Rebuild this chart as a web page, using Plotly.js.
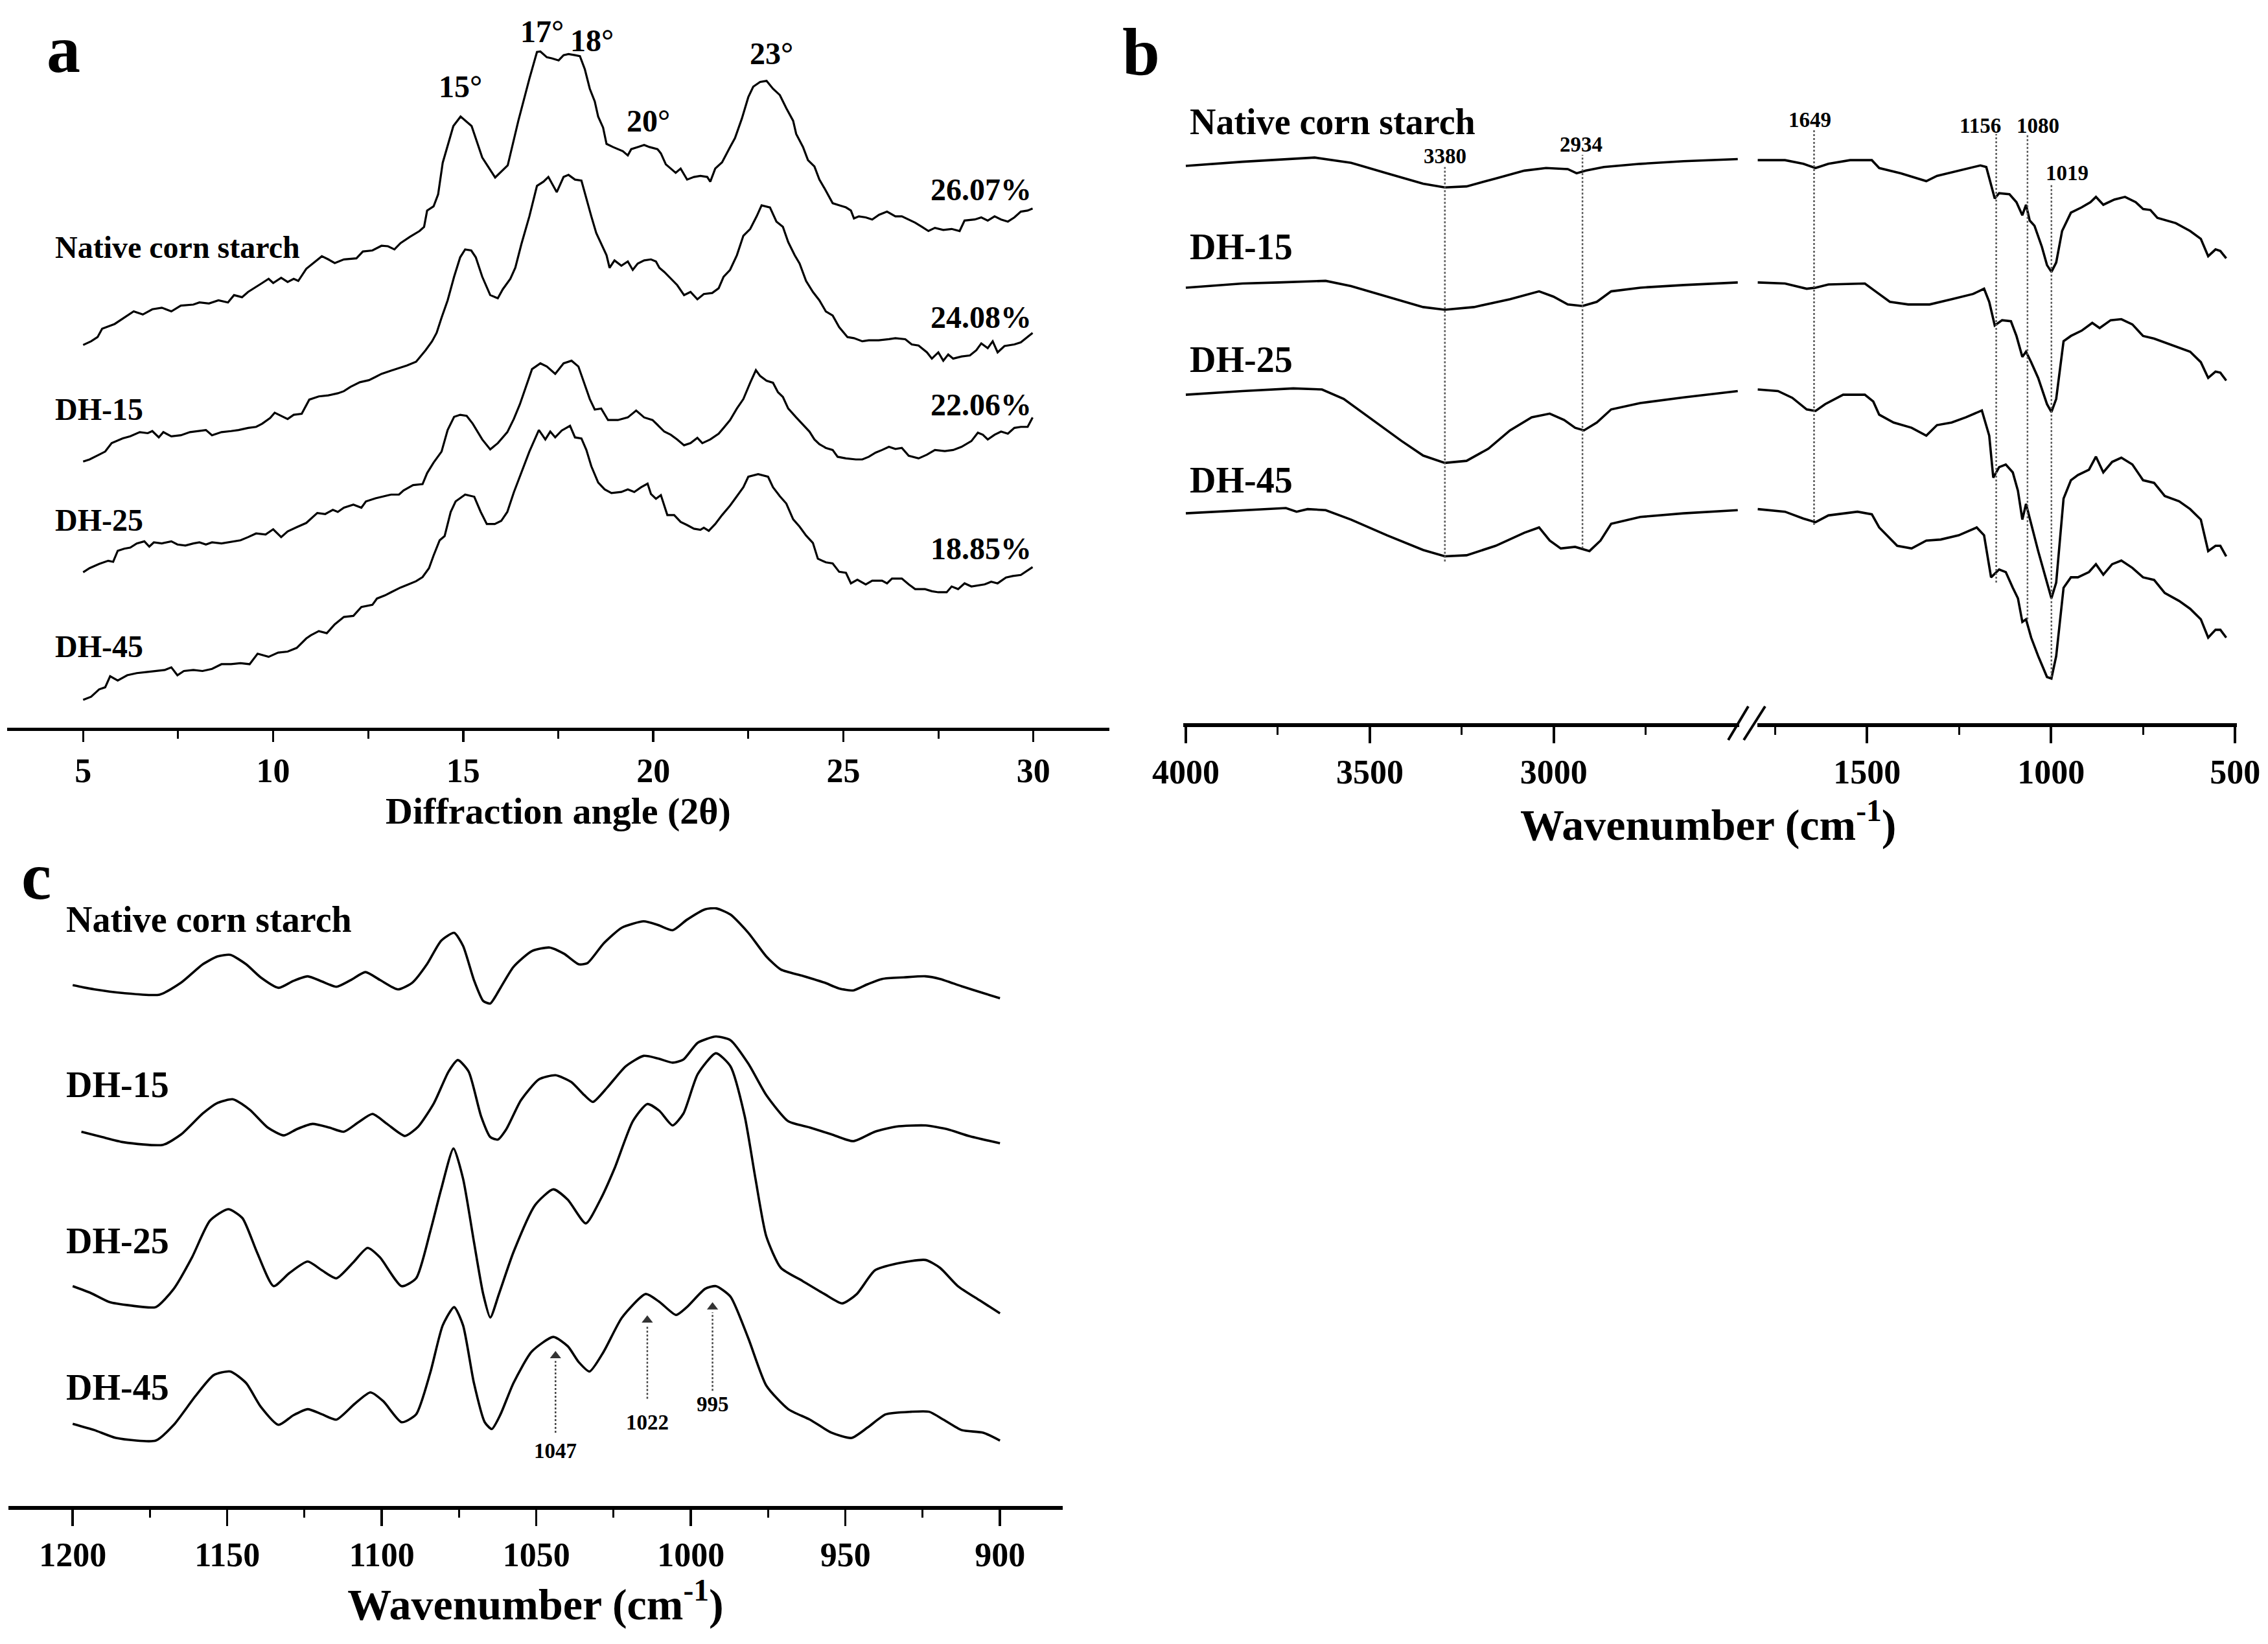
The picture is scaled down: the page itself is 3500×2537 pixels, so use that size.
<!DOCTYPE html>
<html>
<head>
<meta charset="utf-8">
<script src="https://cdn.plot.ly/plotly-3.0.1.min.js"></script>
<style>html,body{margin:0;padding:0;background:#fff;}#chart{width:3500px;height:2537px;}</style>
</head>
<body>
<div id="chart"></div>
<script>
// ---------------- DATA ----------------
const seriesNames = ['Native corn starch', 'DH-15', 'DH-25', 'DH-45'];
const crystallinity = ['26.07%', '24.08%', '22.06%', '18.85%'];
const xrdPeakLabels = ['15°', '17°', '18°', '20°', '23°'];
const xrdTicks = [5, 10, 15, 20, 25, 30];
const ftirPeakLabels = ['3380', '2934', '1649', '1156', '1080', '1019'];
const ftirTicksLeft = [4000, 3500, 3000];
const ftirTicksRight = [1500, 1000, 500];
const deconvTicks = [1200, 1150, 1100, 1050, 1000, 950, 900];
const deconvPeakLabels = ['1047', '1022', '995'];

// XRD (panel a): [2θ, stacked intensity a.u.]
const xrdNative = [[5.00,729],[5.21,736],[5.38,744],[5.50,760],[5.83,769],[6.04,779],[6.33,793],[6.57,787],[6.82,797],[7.07,800],[7.32,793],[7.57,804],[7.90,806],[8.06,810],[8.31,808],[8.56,814],[8.81,810],[8.97,824],[9.18,820],[9.34,830],[9.55,839],[9.71,847],[9.88,855],[10.00,847],[10.21,857],[10.38,849],[10.54,855],[10.66,851],[10.87,874],[11.12,888],[11.28,898],[11.45,892],[11.62,885],[11.86,892],[12.19,894],[12.36,907],[12.61,909],[12.85,918],[13.02,917],[13.19,911],[13.35,923],[13.60,935],[13.85,946],[13.97,954],[14.05,985],[14.22,993],[14.34,1016],[14.46,1076],[14.74,1146],[14.93,1164],[15.22,1146],[15.50,1086],[15.84,1048],[16.17,1071],[16.45,1156],[16.74,1236],[16.94,1287],[17.03,1288],[17.20,1277],[17.33,1275],[17.51,1271],[17.64,1281],[17.77,1283],[17.94,1281],[18.07,1279],[18.20,1254],[18.33,1217],[18.46,1193],[18.55,1164],[18.68,1143],[18.77,1112],[18.94,1106],[19.07,1102],[19.20,1098],[19.33,1090],[19.42,1102],[19.59,1106],[19.76,1110],[19.90,1106],[20.11,1102],[20.20,1094],[20.33,1073],[20.46,1065],[20.59,1057],[20.72,1065],[20.89,1044],[21.07,1049],[21.24,1051],[21.42,1049],[21.50,1040],[21.63,1065],[21.81,1077],[22.02,1106],[22.15,1123],[22.33,1160],[22.50,1201],[22.63,1221],[22.81,1230],[22.98,1232],[23.15,1217],[23.33,1205],[23.50,1180],[23.68,1156],[23.76,1131],[23.94,1106],[24.07,1081],[24.24,1069],[24.37,1044],[24.50,1028],[24.63,1012],[24.72,999],[24.89,995],[25.07,991],[25.20,985],[25.28,970],[25.41,974],[25.59,972],[25.76,968],[25.94,977],[26.15,983],[26.37,974],[26.54,974],[26.72,968],[26.89,962],[27.07,954],[27.24,946],[27.41,952],[27.63,948],[27.85,950],[28.06,946],[28.19,966],[28.46,968],[28.63,972],[28.80,966],[28.98,974],[29.15,968],[29.33,964],[29.50,972],[29.67,983],[29.85,985],[29.98,989]];
const xrdDH15 = [[5.00,507],[5.17,511],[5.42,520],[5.58,526],[5.75,542],[6.04,551],[6.24,555],[6.49,563],[6.70,561],[6.82,565],[6.99,553],[7.11,563],[7.32,555],[7.57,557],[7.81,563],[8.06,565],[8.23,567],[8.39,557],[8.64,563],[8.89,565],[9.09,567],[9.34,571],[9.55,573],[9.71,579],[9.92,590],[10.04,600],[10.21,594],[10.38,588],[10.54,596],[10.75,598],[10.95,625],[11.20,631],[11.45,633],[11.70,637],[11.86,641],[12.03,649],[12.28,658],[12.52,662],[12.69,668],[12.85,674],[13.10,680],[13.35,686],[13.52,690],[13.76,697],[13.93,711],[14.01,719],[14.18,736],[14.30,752],[14.43,781],[14.59,814],[14.76,859],[14.92,896],[15.05,911],[15.21,909],[15.33,896],[15.50,859],[15.71,824],[15.91,818],[16.04,835],[16.24,855],[16.37,876],[16.53,921],[16.74,974],[16.94,1032],[17.11,1040],[17.24,1049],[17.46,1020],[17.64,1049],[17.77,1053],[17.94,1044],[18.11,1042],[18.24,1007],[18.37,974],[18.50,942],[18.63,921],[18.77,900],[18.85,876],[18.98,890],[19.16,880],[19.33,888],[19.46,872],[19.59,884],[19.76,890],[19.94,892],[20.07,888],[20.16,876],[20.29,868],[20.46,855],[20.63,843],[20.81,824],[20.98,830],[21.16,816],[21.33,826],[21.55,828],[21.72,837],[21.85,859],[22.02,872],[22.20,900],[22.37,937],[22.55,950],[22.72,974],[22.85,995],[23.07,991],[23.24,964],[23.41,954],[23.55,925],[23.72,900],[23.85,884],[24.02,851],[24.20,830],[24.37,814],[24.54,793],[24.72,785],[24.89,763],[25.11,744],[25.28,742],[25.50,736],[25.67,738],[25.93,738],[26.20,740],[26.37,742],[26.63,740],[26.80,730],[26.98,728],[27.20,715],[27.33,703],[27.50,715],[27.63,699],[27.76,711],[27.89,703],[28.11,707],[28.33,709],[28.50,719],[28.63,732],[28.80,723],[28.93,736],[29.06,715],[29.24,727],[29.50,730],[29.67,734],[29.85,744],[29.98,752]];
const xrdDH25 = [[5.00,296],[5.17,304],[5.42,312],[5.66,318],[5.79,316],[5.91,337],[6.08,341],[6.24,343],[6.41,351],[6.61,355],[6.74,345],[6.86,353],[7.07,351],[7.32,355],[7.48,349],[7.69,347],[7.90,351],[8.06,353],[8.23,349],[8.39,353],[8.64,351],[8.89,354],[9.14,357],[9.34,363],[9.55,370],[9.80,368],[10.00,378],[10.21,363],[10.38,374],[10.62,382],[10.87,390],[11.16,409],[11.37,407],[11.57,415],[11.70,411],[11.86,419],[12.11,425],[12.32,419],[12.44,431],[12.69,437],[12.85,440],[13.10,444],[13.31,444],[13.43,452],[13.68,462],[13.93,464],[14.05,485],[14.22,505],[14.43,526],[14.59,567],[14.76,592],[14.92,596],[15.09,594],[15.25,579],[15.50,549],[15.71,530],[15.91,542],[16.16,563],[16.33,588],[16.49,616],[16.81,683],[17.03,694],[17.20,688],[17.42,674],[17.64,694],[17.85,699],[18.03,688],[18.20,652],[18.33,626],[18.46,606],[18.63,608],[18.81,586],[19.07,586],[19.33,591],[19.55,604],[19.76,591],[19.98,586],[20.11,577],[20.29,564],[20.46,558],[20.63,549],[20.81,538],[20.98,542],[21.16,552],[21.29,542],[21.50,549],[21.72,560],[21.85,571],[22.02,586],[22.20,608],[22.37,626],[22.55,657],[22.70,681],[22.81,670],[22.98,661],[23.15,657],[23.28,639],[23.41,630],[23.55,608],[23.76,591],[23.94,577],[24.11,564],[24.24,549],[24.37,540],[24.54,533],[24.72,529],[24.85,516],[25.07,513],[25.33,511],[25.50,511],[25.67,516],[25.85,524],[26.02,529],[26.20,535],[26.37,531],[26.54,533],[26.72,518],[26.98,513],[27.20,520],[27.41,529],[27.67,527],[27.89,529],[28.11,535],[28.37,546],[28.54,562],[28.67,558],[28.80,549],[28.98,558],[29.15,564],[29.33,560],[29.50,571],[29.67,573],[29.85,573],[29.98,591]];
const xrdDH45 = [[5.00,53],[5.21,59],[5.42,73],[5.58,77],[5.71,98],[5.91,90],[6.16,100],[6.41,104],[6.66,106],[6.90,108],[7.15,110],[7.32,115],[7.48,100],[7.65,108],[7.90,110],[8.14,108],[8.39,112],[8.64,121],[8.89,121],[9.14,123],[9.38,121],[9.59,141],[9.88,135],[10.13,143],[10.38,145],[10.62,152],[10.87,170],[10.99,176],[11.20,184],[11.41,180],[11.62,197],[11.86,211],[12.11,213],[12.32,230],[12.61,234],[12.73,246],[12.94,252],[13.10,258],[13.35,267],[13.56,273],[13.76,279],[13.93,287],[14.10,304],[14.22,328],[14.38,357],[14.51,365],[14.67,411],[14.80,431],[15.05,444],[15.29,440],[15.46,411],[15.62,388],[15.83,388],[16.00,394],[16.16,411],[16.33,448],[16.53,485],[16.74,526],[16.99,567],[17.16,549],[17.29,564],[17.42,553],[17.59,566],[17.81,575],[17.94,553],[18.11,551],[18.24,529],[18.37,498],[18.55,467],[18.72,454],[18.90,447],[19.16,449],[19.33,454],[19.50,449],[19.68,458],[19.85,465],[19.94,445],[20.07,436],[20.20,443],[20.37,405],[20.55,405],[20.72,392],[20.89,386],[21.07,379],[21.24,377],[21.33,381],[21.46,375],[21.63,388],[21.81,405],[22.02,423],[22.20,441],[22.37,458],[22.50,478],[22.76,483],[23.02,478],[23.15,458],[23.33,441],[23.50,427],[23.68,397],[23.85,383],[24.02,366],[24.20,352],[24.33,322],[24.54,315],[24.72,313],[24.89,297],[25.07,295],[25.20,275],[25.37,282],[25.59,273],[25.76,280],[26.02,280],[26.15,275],[26.28,284],[26.54,284],[26.72,273],[26.89,264],[27.15,264],[27.33,260],[27.50,258],[27.72,258],[27.85,269],[28.02,264],[28.19,275],[28.37,269],[28.54,271],[28.72,273],[28.89,278],[29.06,275],[29.28,286],[29.46,289],[29.67,291],[29.85,300],[29.98,306]];

// FTIR (panel b), stacked transmittance a.u.; left segment 4000-2500, right segment 1800-500
const ftirNativeLeftWn = [4000,3846,3650,3551,3453,3355,3296,3237,3158,3080,3021,2962,2938,2913,2864,2765,2647,2500];
const ftirNativeLeftT = [1062,1070,1078,1068,1048,1028,1021,1023,1038,1053,1058,1056,1048,1053,1060,1066,1071,1075];
const ftirNativeRightWn = [1797,1723,1673,1640,1605,1546,1487,1467,1408,1339,1310,1251,1192,1176,1163,1153,1141,1113,1094,1078,1068,1058,1045,1025,1011,999,986,970,946,917,893,878,858,828,799,770,750,730,711,661,622,593,573,553,540,524];
const ftirNativeRightT = [1073,1073,1066,1058,1066,1073,1073,1058,1048,1033,1043,1053,1063,1060,1028,1000,1010,1008,993,968,988,958,948,908,873,860,878,938,973,983,993,1003,988,998,1003,993,980,978,963,953,938,923,890,903,900,886];
const ftirDH15LeftWn = [4000,3846,3748,3620,3551,3453,3355,3296,3217,3119,3040,3001,2962,2922,2883,2844,2765,2647,2500];
const ftirDH15LeftT = [830,838,840,843,833,813,793,788,793,808,823,813,798,795,803,823,830,835,840];
const ftirDH15RightWn = [1797,1723,1664,1640,1605,1506,1477,1438,1388,1330,1270,1212,1182,1168,1153,1133,1109,1094,1078,1068,1054,1035,1011,999,986,966,946,917,888,868,838,809,779,750,720,681,622,593,573,553,540,524];
const ftirDH15RightT = [840,838,828,830,836,838,823,803,798,798,808,818,828,803,758,768,766,738,698,708,688,658,608,593,618,728,738,748,763,753,768,770,760,738,733,723,708,688,658,670,668,653];
const ftirDH25LeftWn = [4000,3846,3708,3630,3571,3492,3414,3355,3296,3237,3178,3119,3060,3011,2972,2942,2918,2883,2844,2765,2647,2500];
const ftirDH25LeftT = [626,633,638,636,618,578,538,510,496,500,523,558,583,590,578,563,558,573,598,610,621,633];
const ftirDH25RightWn = [1797,1742,1703,1664,1640,1614,1565,1506,1483,1467,1428,1379,1339,1310,1270,1231,1188,1168,1157,1141,1123,1104,1090,1078,1068,1054,1035,1011,999,986,966,946,927,897,878,858,834,809,779,750,720,691,652,622,593,573,553,540,524];
const ftirDH25RightT = [636,633,620,598,595,608,626,626,613,588,573,563,548,568,573,583,596,548,468,488,493,478,443,388,418,378,328,268,238,268,428,463,473,483,508,478,498,506,493,463,458,433,423,408,388,328,338,338,318];
const ftirDH45LeftWn = [4000,3846,3728,3699,3669,3620,3551,3453,3355,3296,3237,3158,3080,3040,3011,2981,2942,2903,2873,2844,2765,2647,2500];
const ftirDH45LeftT = [400,406,410,403,408,406,388,358,330,318,320,338,363,373,348,333,336,328,348,380,393,400,406];
const ftirDH45RightWn = [1797,1723,1673,1640,1605,1526,1487,1467,1418,1379,1339,1300,1251,1202,1182,1163,1141,1123,1104,1090,1078,1068,1054,1035,1011,999,986,966,946,927,897,878,858,834,809,779,750,720,691,652,622,593,573,553,540,524];
const ftirDH45RightT = [408,403,390,383,396,403,398,373,338,333,348,350,358,373,358,278,293,288,258,238,193,198,163,128,88,85,128,258,278,278,288,303,283,303,310,296,278,273,248,233,218,198,163,178,178,163];
// dotted marker lines in panel b (wavenumber, top, bottom)
const ftirLineWn = [3296, 2922, 1644, 1149, 1064, 999];
const ftirLineTop = [1060, 1083, 1133, 1123, 1123, 1028];
const ftirLineBottom = [308, 333, 378, 268, 198, 88];

// Deconvoluted FTIR (panel c), stacked a.u.
const decNativeWn = [1200,1193,1183.6,1171.9,1164.9,1157.9,1153.2,1149,1143.9,1139.2,1133.4,1128.7,1124,1119.3,1114.7,1110,1105.3,1100.6,1094.8,1090.1,1085.4,1080.8,1076.6,1073.7,1070.2,1067.2,1064.9,1062.1,1057.4,1051.5,1045.7,1041,1036.3,1033.5,1028.2,1022.3,1015.3,1010.6,1005.9,1001.3,995.4,991.9,987.2,981.4,975.6,970.9,963.9,956.8,952.2,947.5,942.8,938.1,931.1,924.1,919.4,912.4,905.4,900];
const decNativeA = [995,987,980,977,1000,1035,1050,1053,1035,1010,990,1003,1012,1002,992,1005,1020,1005,987,1000,1035,1080,1095,1070,1005,965,960,985,1030,1060,1067,1055,1035,1037,1075,1105,1117,1110,1100,1120,1140,1142,1130,1095,1050,1025,1013,1000,989,985,997,1007,1010,1012,1007,993,980,970];
const decDH15Wn = [1197.2,1190.6,1183.6,1170.8,1164.9,1157.9,1153.2,1148.1,1142.7,1136.9,1131.7,1127.5,1122.4,1117,1112.3,1107.6,1103,1098.3,1092.5,1088.2,1083.1,1078.4,1075.4,1071.9,1067.9,1064.9,1062.5,1059.7,1055,1049.2,1043.8,1038.7,1034.5,1031.7,1027,1021.1,1015.3,1010.6,1005.9,1002.4,997.8,991.9,987.2,981.4,975.6,968.5,961.5,954.5,947.5,940.5,933.5,924.1,917.1,910.1,900];
const decDH15A = [715,705,695,690,710,750,770,777,757,723,708,720,730,723,715,733,749,730,707,725,770,830,852,830,745,705,700,720,775,815,823,810,785,772,800,840,860,855,847,853,885,897,890,845,785,735,723,710,697,715,725,727,720,707,693];
const decDH25Wn = [1200,1194.2,1188.3,1181.3,1173.1,1167.3,1161.4,1155.6,1149.7,1145.1,1140.4,1135,1129.9,1124,1119.3,1114.7,1109.3,1104.6,1100.6,1093.6,1088.9,1084.3,1080.8,1076.8,1073.7,1070.2,1067.2,1064.9,1062.1,1057.4,1050.4,1044.5,1039.8,1034,1029.3,1024.7,1018.8,1014.1,1010.2,1005.9,1002.4,997.8,991.9,987.2,982.6,979.1,975.6,970.9,963.9,956.8,951,946.3,940.5,933.5,924.1,919.4,913.6,906.6,900];
const decDH25A = [420,407,390,383,380,415,475,545,567,550,485,420,445,467,450,435,465,493,475,420,435,525,605,683,625,505,405,360,405,485,575,605,585,540,585,645,735,768,755,727,750,825,865,840,745,625,515,455,430,405,387,405,450,463,470,455,420,393,368];
const decDH45Wn = [1200,1193,1186,1173.1,1167.3,1160.3,1154.4,1149,1143.9,1139.2,1133.4,1128.7,1124,1119.3,1114.7,1108.8,1103.7,1099.5,1093.6,1088.9,1084.3,1080.3,1076.6,1073.7,1070.2,1066.7,1064.4,1061.6,1057.4,1051.5,1044.5,1039.8,1036.3,1032.8,1028.2,1022.3,1014.6,1010.2,1004.8,1001.3,995.4,991.9,987.2,981.4,975.6,968.5,961.5,954.5,948,942.8,937,928.8,922.9,918.3,912.4,905.4,900];
const decDH45A = [157,145,130,125,155,210,250,257,235,190,155,173,185,175,165,195,217,200,160,175,255,345,380,345,235,160,147,175,235,295,323,305,275,257,295,360,405,390,365,380,415,420,400,320,230,185,165,140,130,150,175,180,180,165,145,140,125];
// arrows in panel c (wavenumber, tail, tip)
const decArrowWn = [1043.8, 1014.1, 993];
const decArrowTail = [140, 205, 220];
const decArrowTip = [287, 355, 380];

// ---------------- LAYOUT HELPERS ----------------
const W = 3500, H = 2537;
const px = x => x / W;
const py = y => 1 - y / H;
const FONT = 'Liberation Serif, "Times New Roman", serif';
const BLACK = '#000000';

function line(x, y, xa, ya, smooth, w) {
  return {type: 'scatter', mode: 'lines', x: x, y: y, xaxis: xa, yaxis: ya,
    line: {color: BLACK, width: w || 3.6, shape: smooth ? 'spline' : 'linear', smoothing: 0.6},
    hoverinfo: 'skip', showlegend: false};
}
const col = (arr, i) => arr.map(p => p[i]);

const traces = [
  line(col(xrdNative, 0), col(xrdNative, 1), 'x', 'y', false, 3.2),
  line(col(xrdDH15, 0), col(xrdDH15, 1), 'x', 'y', false, 3.2),
  line(col(xrdDH25, 0), col(xrdDH25, 1), 'x', 'y', false, 3.2),
  line(col(xrdDH45, 0), col(xrdDH45, 1), 'x', 'y', false, 3.2),
  line(ftirNativeLeftWn, ftirNativeLeftT, 'x2', 'y2'),
  line(ftirDH15LeftWn, ftirDH15LeftT, 'x2', 'y2'),
  line(ftirDH25LeftWn, ftirDH25LeftT, 'x2', 'y2'),
  line(ftirDH45LeftWn, ftirDH45LeftT, 'x2', 'y2'),
  line(ftirNativeRightWn, ftirNativeRightT, 'x3', 'y2'),
  line(ftirDH15RightWn, ftirDH15RightT, 'x3', 'y2'),
  line(ftirDH25RightWn, ftirDH25RightT, 'x3', 'y2'),
  line(ftirDH45RightWn, ftirDH45RightT, 'x3', 'y2'),
  line(decNativeWn, decNativeA, 'x4', 'y3', true),
  line(decDH15Wn, decDH15A, 'x4', 'y3', true),
  line(decDH25Wn, decDH25A, 'x4', 'y3', true),
  line(decDH45Wn, decDH45A, 'x4', 'y3', true),
  // arrowheads of the dotted arrows in panel c
  {type: 'scatter', mode: 'markers', x: decArrowWn, y: decArrowTip, xaxis: 'x4', yaxis: 'y3',
   marker: {symbol: 'triangle-up', size: 15, color: '#333'}, hoverinfo: 'skip', showlegend: false}
];

function xAxis(domain, range, anchor, tickvals, minorvals, ticklen, lw) {
  return {
    domain: domain, range: range, anchor: anchor, autorange: false,
    showline: true, linecolor: BLACK, linewidth: lw,
    ticks: 'outside', ticklen: ticklen, tickwidth: 3.5, tickcolor: BLACK,
    tickmode: 'array', tickvals: tickvals, ticktext: tickvals.map(String),
    minor: {tickmode: 'array', tickvals: minorvals, ticks: 'outside', ticklen: 12, tickwidth: 3, tickcolor: BLACK},
    tickfont: {family: FONT, size: 52, color: BLACK, weight: 'bold'},
    showgrid: false, zeroline: false, fixedrange: true
  };
}
function yAxis(domain, range, anchor) {
  return {domain: domain, range: range, anchor: anchor, autorange: false, visible: false,
    showgrid: false, zeroline: false, fixedrange: true};
}

const xa = xAxis([px(11), px(1712)], [3, 32], 'y', xrdTicks, [7.5, 12.5, 17.5, 22.5, 27.5], 17, 5);
xa.title = {text: 'Diffraction angle (2θ)', font: {family: FONT, size: 58, color: BLACK, weight: 'bold'}, standoff: 14};
const xa2 = xAxis([px(1826), px(2684)], [4007, 2496], 'y2', ftirTicksLeft, [3750, 3250, 2750], 25, 6);
const xa3 = xAxis([px(2712), px(3452)], [1798, 495], 'y2', ftirTicksRight, [1750, 1250, 750], 25, 6);
const xa4 = xAxis([px(13), px(1640)], [1220.8, 879.7], 'y3', deconvTicks, [1175, 1125, 1075, 1025, 975, 925], 25, 6);
xa4.title = {text: 'Wavenumber (cm<sup>-1</sup>)', font: {family: FONT, size: 68, color: BLACK, weight: 'bold'}, standoff: 14};

const annotations = [];
function txt(text, x, y, size, opts) {
  annotations.push(Object.assign({text: text, x: x, y: y, xref: 'paper', yref: 'paper',
    showarrow: false, xanchor: 'center', yanchor: 'middle',
    font: {family: FONT, size: size, color: BLACK, weight: 'bold'}}, opts || {}));
}
// panel letters
txt('a', px(98), py(76), 104);
txt('b', px(1761), py(80), 104);
txt('c', px(56), py(1351), 104);
// panel a labels
const aLabelY = [381, 632, 802, 998];
seriesNames.forEach((n, i) => txt(n, px(83), py(aLabelY[i]), 48, {xanchor: 'left'}));
const pctY = [292, 490, 624, 846];
crystallinity.forEach((t, i) => txt(t, px(1594), py(pctY[i]), 48, {xanchor: 'right'}));
const degPos = [[710, 134], [836, 48], [914, 62], [1000, 187], [1190, 82]];
xrdPeakLabels.forEach((t, i) => txt(t, px(degPos[i][0]), py(degPos[i][1]), 48));
// panel b labels
const bLabelY = [188, 381, 555, 741];
seriesNames.forEach((n, i) => txt(n, px(1834), py(bLabelY[i]), 56, {xanchor: 'left'}));
const bPeakPos = [[2230, 241], [2440, 223], [2793, 185], [3056, 194], [3145, 194], [3190, 267]];
ftirPeakLabels.forEach((t, i) => txt(t, px(bPeakPos[i][0]), py(bPeakPos[i][1]), 33));
txt('Wavenumber (cm<sup>-1</sup>)', px(2636), py(1268), 68);
// panel c labels
const cLabelY = [1419, 1674, 1915, 2141];
seriesNames.forEach((n, i) => txt(n, px(100), py(cLabelY[i]), 56, {xanchor: 'left'}));
const cPeakY = [105, 160, 195];
deconvPeakLabels.forEach((t, i) => annotations.push({text: t, x: decArrowWn[i], y: cPeakY[i], xref: 'x4', yref: 'y3',
  showarrow: false, xanchor: 'center', yanchor: 'middle', font: {family: FONT, size: 33, color: BLACK, weight: 'bold'}}));

const shapes = [];
ftirLineWn.forEach((w, i) => shapes.push({type: 'line', xref: i < 2 ? 'x2' : 'x3', yref: 'y2',
  x0: w, x1: w, y0: ftirLineBottom[i], y1: ftirLineTop[i], line: {color: '#555', width: 2.5, dash: 'dot'}}));
decArrowWn.forEach((w, i) => shapes.push({type: 'line', xref: 'x4', yref: 'y3',
  x0: w, x1: w, y0: decArrowTail[i], y1: decArrowTip[i] - 10, line: {color: '#444', width: 2.5, dash: 'dot'}}));
// axis break marks
shapes.push({type: 'line', xref: 'paper', yref: 'paper', x0: px(2667), y0: py(1142), x1: px(2698), y1: py(1090), line: {color: BLACK, width: 4}});
shapes.push({type: 'line', xref: 'paper', yref: 'paper', x0: px(2691), y0: py(1142), x1: px(2724), y1: py(1090), line: {color: BLACK, width: 4}});

const layout = {
  width: W, height: H, margin: {l: 0, r: 0, t: 0, b: 0},
  paper_bgcolor: '#ffffff', plot_bgcolor: 'rgba(0,0,0,0)',
  font: {family: FONT, size: 48, color: BLACK, weight: 'bold'},
  showlegend: false,
  xaxis: xa, yaxis: yAxis([py(1123), py(60)], [0, 1312], 'x'),
  xaxis2: xa2, yaxis2: yAxis([py(1116), py(150)], [0, 1193], 'x2'),
  xaxis3: xa3,
  xaxis4: xa4, yaxis3: yAxis([py(2324), py(1400)], [0, 1144], 'x4'),
  annotations: annotations, shapes: shapes
};

Plotly.newPlot('chart', traces, layout, {staticPlot: true, displayModeBar: false});
</script>
</body>
</html>
